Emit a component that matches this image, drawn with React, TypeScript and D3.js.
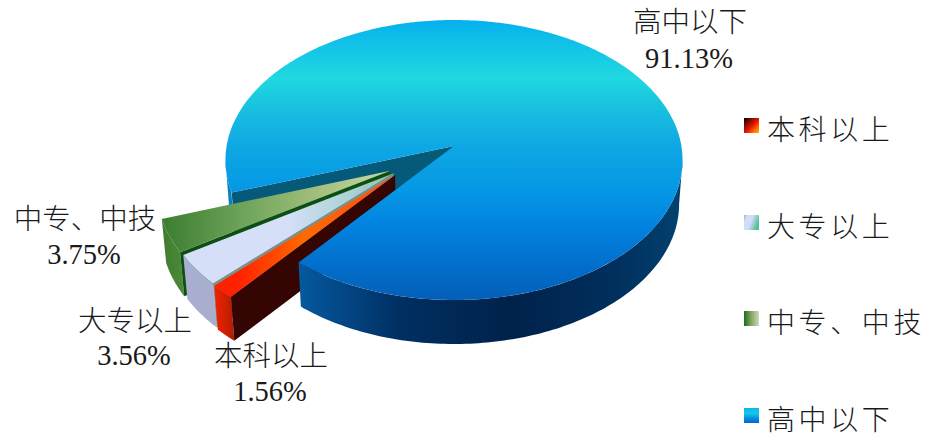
import React from "react";
import * as d3 from "d3";

// Share of employees by education level, in percent
const categories = ["本科以上", "大专以上", "中专、中技", "高中以下"];
const shares = [1.56, 3.56, 3.75, 91.13];
const shareLabels = ["1.56%", "3.56%", "3.75%", "91.13%"];

const WIDTH = 929;
const HEIGHT = 437;

// Projection of the pie disc: u runs right, v runs towards the viewer
const PIE = { cx: 454, cy: 146, a: 227.4, b: 138.6, k: 0.1, depth: 44, floorScale: 0.985 };
const START_DEG = 219.1;

// Pulled-out slices share one direction; small per-slice shift separates their walls
const EXPLODE: [number, number][] = [
  [-0.254, 0.205],
  [-0.26, 0.192],
  [-0.275, 0.175],
  [0, 0],
];

const labelLayout = [
  { x: 271, y: 366, vy: 401 },
  { x: 135, y: 331, vy: 365 },
  { x: 85, y: 229, vy: 264 },
  { x: 690, y: 32, vy: 68 },
];
const legendRows = [140, 237, 333, 430];

const topStops: Record<number, [number, string][]> = {
  0: [[0.12, "#ff2000"], [0.5, "#ff6a00"], [1, "#ff4a10"]],
  1: [[0.5, "#d5dff8"], [0.82, "#a8d2d2"], [1, "#8fbfae"]],
  2: [[0, "#3b7d2e"], [0.35, "#6da35a"], [0.7, "#a5c07f"], [1, "#c4d9a8"]],
};
const sideStops: Record<number, [number, string][]> = {
  0: [[0, "#f42200"], [1, "#b01c00"]],
  1: [[0, "#a8afd2"], [1, "#a8aecb"]],
  2: [[0, "#3f7c2d"], [1, "#4f8a3c"]],
};
const wallColors = ["#340502", "#7f8f8a", "#0c4f10"];

const pieTopStops: [number, string][] = [
  [0, "#05b0ef"], [0.07, "#10bfe8"], [0.21, "#20d8e0"], [0.33, "#18bde0"], [0.45, "#0ea8e4"],
  [0.62, "#0596e5"], [0.74, "#0282e0"], [0.87, "#0270cc"], [1, "#045fb8"],
];
const pieSideStops: [number, string][] = [
  [0, "#05599f"], [0.26, "#002f62"], [0.55, "#00224a"], [0.83, "#01305e"], [1, "#02426f"],
];

const toRad = (deg: number) => (deg * Math.PI) / 180;

function project(theta: number, offset: [number, number], floor: boolean): [number, number] {
  const u = Math.sin(theta) + offset[0];
  const v = -Math.cos(theta) + offset[1];
  return projectDisc(u, v, floor);
}

function projectDisc(u: number, v: number, floor: boolean): [number, number] {
  const w = 1 - PIE.k * v;
  const scale = floor ? PIE.floorScale : 1;
  return [PIE.cx + (PIE.a * scale * u) / w, PIE.cy + (PIE.b * v) / w + (floor ? PIE.depth : 0)];
}

function rim(t0: number, t1: number, offset: [number, number], floor: boolean) {
  const n = Math.max(2, Math.ceil(Math.abs(t1 - t0) / toRad(1)));
  return d3.range(n + 1).map((i) => project(t0 + ((t1 - t0) * i) / n, offset, floor));
}

const closed = d3.line().curve(d3.curveLinearClosed);

function topFace(t0: number, t1: number, o: [number, number]) {
  return closed([projectDisc(o[0], o[1], false), ...rim(t0, t1, o, false)]) as string;
}
function band(t0: number, t1: number, o: [number, number]) {
  return closed([...rim(t0, t1, o, false), ...rim(t1, t0, o, true)]) as string;
}
function wall(t: number, o: [number, number]) {
  return closed([
    projectDisc(o[0], o[1], false),
    project(t, o, false),
    project(t, o, true),
    projectDisc(o[0], o[1], true),
  ]) as string;
}

function Grad({ id, x1, y1, x2, y2, stops, user = true }: any) {
  return (
    <linearGradient id={id} x1={x1} y1={y1} x2={x2} y2={y2} gradientUnits={user ? "userSpaceOnUse" : "objectBoundingBox"}>
      {stops.map(([o, c]: [number, string], i: number) => (
        <stop key={i} offset={o} stopColor={c} />
      ))}
    </linearGradient>
  );
}

const labelFont = '"Liberation Serif", "Noto Sans CJK SC", serif';
const legendFont = '"Noto Sans CJK SC", "Liberation Serif", serif';

export default function App() {
  const arcs = d3
    .pie<number>()
    .sort(null)
    .startAngle(toRad(START_DEG))
    .endAngle(toRad(START_DEG + 360))(shares);

  const big = arcs[3];
  const o0: [number, number] = [0, 0];
  const silhouette = toRad(95.7);
  const leftSilhouette = toRad(264.3);
  const bigEnd = big.endAngle - 2 * Math.PI; // rim angle where the large slice closes

  return (
    <svg width={WIDTH} height={HEIGHT} style={{ position: "absolute", left: 0, top: 0 }}>
      <defs>
        <Grad id="pieTop" x1={0} y1={20} x2={0} y2={300} stops={pieTopStops} />
        <Grad id="pieSide" x1={300} y1={0} x2={683} y2={0} stops={pieSideStops} />
        <Grad id="top0" x1={215} y1={0} x2={395} y2={0} stops={topStops[0]} />
        <Grad id="top1" x1={182} y1={0} x2={392} y2={0} stops={topStops[1]} />
        <Grad id="top2" x1={162} y1={0} x2={390} y2={0} stops={topStops[2]} />
        {[0, 1, 2].map((i) => (
          <Grad key={i} id={`side${i}`} x1={[214, 182, 162][i]} y1={0} x2={[235, 217, 186][i]} y2={0} stops={sideStops[i]} />
        ))}
        <Grad id="sw0" user={false} x1={0} y1={0} x2={1} y2={1} stops={[[0, "#000000"], [0.3, "#8a0a00"], [0.55, "#f01500"], [0.8, "#ff7a00"], [1, "#ffb000"]]} />
        <Grad id="sw1" user={false} x1={0} y1={0} x2={1} y2={0.4} stops={[[0, "#8fb8a8"], [0.2, "#d0dcf8"], [0.55, "#d0dcf8"], [1, "#55c09a"]]} />
        <Grad id="sw2" user={false} x1={0} y1={0} x2={1} y2={0} stops={[[0, "#1f6a1c"], [0.5, "#88a868"], [1, "#cbdcb8"]]} />
        <Grad id="sw3" user={false} x1={0} y1={0} x2={0} y2={1} stops={[[0, "#08b4ee"], [0.35, "#18c8e4"], [0.7, "#0490e0"], [1, "#0468c0"]]} />
      </defs>

      {/* Back pieces of the main slice, seen through the gap */}
      <path d={band(toRad(251.4), leftSilhouette, o0)} fill="#0a80c0" />
      <path d={wall(big.startAngle, o0)} fill="#045a78" />

      {/* Pulled-out slices, back to front */}
      {[2, 1, 0].map((i) => {
        const a = arcs[i];
        const o = EXPLODE[i];
        return (
          <g key={categories[i]}>
            <path d={band(a.startAngle, a.endAngle, o)} fill={`url(#side${i})`} />
            <path d={wall(a.startAngle, o)} fill={wallColors[i]} />
            <path d={topFace(a.startAngle, a.endAngle, o)} fill={`url(#top${i})`} />
          </g>
        );
      })}

      {/* Main slice: front rim first, then the top face */}
      <path d={band(silhouette, bigEnd, o0)} fill="url(#pieSide)" />
      <path d={topFace(big.startAngle, big.endAngle, o0)} fill="url(#pieTop)" />

      {/* Data labels */}
      <g fontFamily={labelFont} fontSize={28.5} fontWeight={300} fill="#1a1a1a" textAnchor="middle">
        {categories.map((c, i) => (
          <g key={c}>
            <text x={labelLayout[i].x} y={labelLayout[i].y}>{c}</text>
            <text x={labelLayout[i].x - 1} y={labelLayout[i].vy}>{shareLabels[i]}</text>
          </g>
        ))}
      </g>

      {/* Legend */}
      <g fontFamily={legendFont} fontSize={28} fontWeight={300} fill="#1a1a1a">
        {categories.map((c, i) => (
          <g key={c}>
            <rect x={744} y={legendRows[i] - 22} width={15} height={15} fill={`url(#sw${i})`} />
            <text x={767} y={legendRows[i]} letterSpacing={3.6}>{c}</text>
          </g>
        ))}
      </g>
    </svg>
  );
}
